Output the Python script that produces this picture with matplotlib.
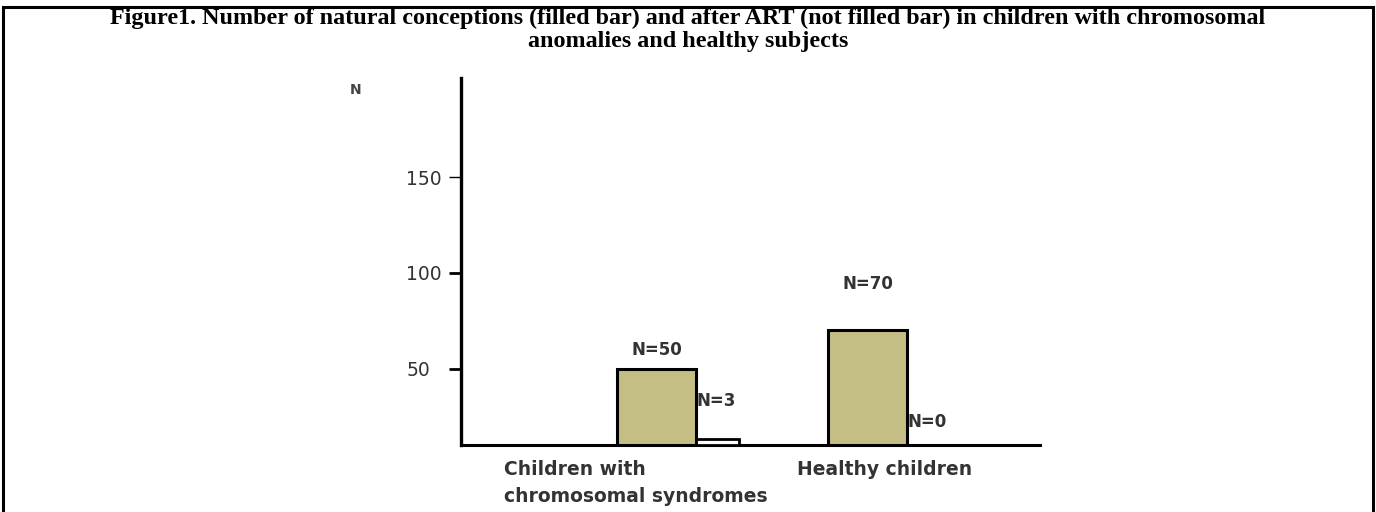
import matplotlib
matplotlib.use("Agg")
import matplotlib.pyplot as plt
from matplotlib.patches import Rectangle
from matplotlib.transforms import blended_transform_factory

# ---- data ----
categories = ["Children with\nchromosomal syndromes", "Healthy children"]
natural = [50, 70]
art = [3, 0]
natural_labels = ["N=50", "N=70"]
art_labels = ["N=3", "N=0"]
yticks = [50, 100, 150]
title = ("Figure1. Number of natural conceptions (filled bar) and after ART (not filled bar) "
         "in children with chromosomal\nanomalies and healthy subjects")

# ---- layout ----
W, H, DPI = 1376, 512, 100
fig = plt.figure(figsize=(W / DPI, H / DPI), dpi=DPI)
fig.patch.set_facecolor("white")

# outer frame
fig.add_artist(Rectangle((0.0025, -0.02), 0.995, 1.006, transform=fig.transFigure,
                         fill=False, edgecolor="black", linewidth=2.2, zorder=10))

title_y = [18, 41]  # pixel centres of the two title lines
for line, ty in zip(title.split("\n"), title_y):
    fig.text(0.5, 1 - ty / H, line, ha="center", va="center", fontsize=17.4,
             fontweight="bold", family="Liberation Serif")

ax = fig.add_axes([461 / W, 1 - 445 / H, (1040 - 461) / W, (445 - 78) / H])
ax.set_facecolor("none")
ax.set_xlim(-0.929, 1.817)
ax.set_ylim(10, 202)

fill_w, art_w = 0.375, 0.2
x = list(range(len(categories)))
x_art = [i + fill_w / 2 + art_w / 2 for i in x]
floor = ax.get_ylim()[0]

ax.bar(x, [v - floor for v in natural], bottom=floor, width=fill_w,
       color="#c4bd84", edgecolor="black", linewidth=2.2, zorder=3)
ax.bar(x_art, art, bottom=floor, width=art_w, color="white",
       edgecolor="black", linewidth=2.0, zorder=3)

for s in ["top", "right"]:
    ax.spines[s].set_visible(False)
ax.spines["left"].set_linewidth(2.4)
ax.spines["bottom"].set_linewidth(2.2)

ax.set_xticks([])
ax.set_yticks(yticks)
ax.set_yticklabels([str(t) for t in yticks])
ax.tick_params(axis="y", direction="out", length=9, width=2, pad=30.5,
               labelsize=13.5, labelcolor="#333333")
for lab in ax.get_yticklabels():
    lab.set_ha("left")
    lab.set_family("DejaVu Sans")
t150 = ax.yaxis.get_major_ticks()[2]
t150.tick1line.set_color("#777777")
t150.tick1line.set_markeredgewidth(1)

# value labels
txt_kw = dict(fontsize=12, color="#333333", family="DejaVu Sans", fontweight="bold")
nat_offsets = [7, 27]   # points above bar tops
for xi, v, lab, off in zip(x, natural, natural_labels, nat_offsets):
    ax.annotate(lab, (xi, v), xytext=(0, off), textcoords="offset points",
                ha="center", va="bottom", **txt_kw)
art_offsets = [21, 10]
for xi, v, lab, off in zip(x_art, art, art_labels, art_offsets):
    ax.annotate(lab, (xi - art_w / 2, max(v, 0) + floor), xytext=(0, off),
                textcoords="offset points", ha="left", va="bottom", **txt_kw)

# category labels (left-aligned as in the original)
cat_offsets = [-0.724, -0.337]
trans = blended_transform_factory(ax.transData, ax.transAxes)
for xi, lab, off in zip(x, categories, cat_offsets):
    ax.text(xi + off, -0.04, lab, transform=trans, ha="left", va="top",
            fontsize=13.5, color="#333333", family="DejaVu Sans", fontweight="bold",
            linespacing=1.55)

ax.text(-0.192, 0.967, "N", transform=ax.transAxes, ha="left", va="center",
        fontsize=10, color="#444444", family="DejaVu Sans", fontweight="bold")

fig.savefig("out.png", dpi=DPI, facecolor="white")
